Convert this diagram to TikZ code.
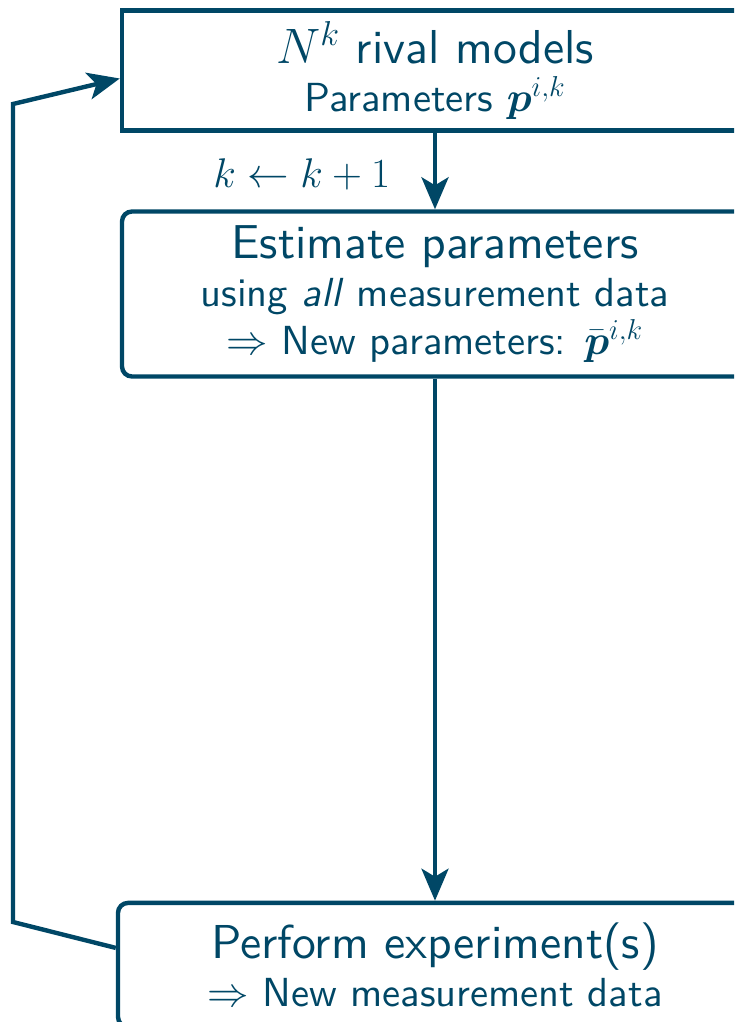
\documentclass[tikz,border=0pt]{standalone}
\usepackage{amsmath,amssymb}
\usepackage{fontspec}
\setsansfont{lmsans10-regular.otf}[ItalicFont=lmsans10-oblique.otf, BoldFont=lmsans10-bold.otf]
\usepackage{tikz}
\usetikzlibrary{arrows.meta,positioning}
\definecolor{loopblue}{RGB}{0,71,102}
\newcommand{\bigtxt}{\fontsize{23.8}{24}\selectfont}
\newcommand{\medtxt}{\fontsize{20.3}{24}\selectfont}
\tikzset{
  stage/.style  ={rectangle, draw=loopblue, line width=2.2pt, text=loopblue,
                  align=center, font=\sffamily\bigtxt, minimum width=313pt,
                  inner sep=2pt},
  stageR/.style ={stage, rounded corners=5pt},
  flow/.style   ={-{Stealth[length=16pt,width=13.5pt,inset=4pt]}, line width=2.2pt, draw=loopblue},
}

\begin{document}
\begin{tikzpicture}[x=0.5pt, y=-0.5pt, node distance=38.3pt]
  \useasboundingbox (0,0) rectangle (734,1022);
  \clip (0,0) rectangle (734,1022);
  \node[stage, minimum height=60pt] at (435,70.5) (models)
    {$N^k$ rival models\\{\medtxt Parameters $\boldsymbol{p}^{i,k}$}};
  \node[stageR, minimum height=82.5pt, below=of models] (estim)
    {Estimate parameters\\{\medtxt using \textit{all} measurement data}\\{\medtxt $\Rightarrow$ New parameters: $\bar{\boldsymbol{p}}^{i,k}$}};
  \node[stageR, minimum width=317pt, minimum height=62pt, below=261pt of estim] (exper)
    {Perform experiment(s)\\{\medtxt $\Rightarrow$ New measurement data}};
  \coordinate (lb) at (13,922);
  \coordinate (lt) at (13,104);
  \draw[flow] (models) -- node[pos=0.55, left=18pt, text=loopblue, font=\medtxt] {$k \leftarrow k+1$} (estim);
  \draw[flow] (estim) -- (exper);
  \draw[flow] ([yshift=8.5pt]exper.west) -- (lb) -- (lt) -- ([yshift=-4pt]models.west);
\end{tikzpicture}
\end{document}
